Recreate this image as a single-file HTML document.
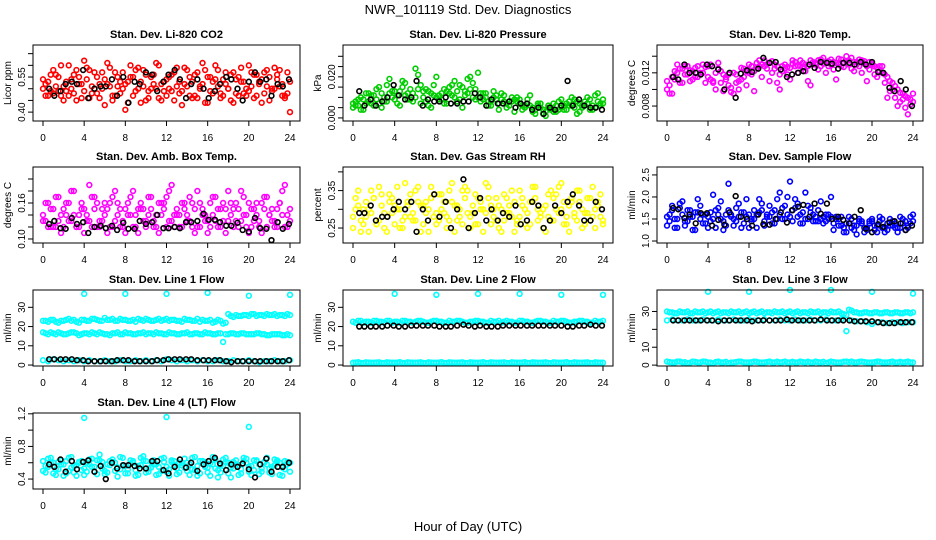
<!DOCTYPE html>
<html><head><meta charset="utf-8"><style>
html,body{margin:0;padding:0;background:#fff;}
svg{display:block;font-family:"Liberation Sans",sans-serif;}
</style></head><body>
<svg id="chart" width="936" height="540" viewBox="0 0 936 540" xmlns="http://www.w3.org/2000/svg">
<rect x="0" y="0" width="936" height="540" fill="#fff"/>
<text x="468" y="14" font-size="13" text-anchor="middle">NWR_101119  Std. Dev. Diagnostics</text>
<text x="468" y="531" font-size="13" text-anchor="middle">Hour of Day (UTC)</text>
</svg>
<script>
const hours = [0,0.5,1,1.5,2,2.5,3,3.5,4,4.5,5,5.5,6,6.5,7,7.5,8,8.5,9,9.5,10,10.5,11,11.5,12,12.5,13,13.5,14,14.5,15,15.5,16,16.5,17,17.5,18,18.5,19,19.5,20,20.5,21,21.5,22,22.5,23,23.5,24];
const hoursH = [0.25,0.75,1.25,1.75,2.25,2.75,3.25,3.75,4.25,4.75,5.25,5.75,6.25,6.75,7.25,7.75,8.25,8.75,9.25,9.75,10.25,10.75,11.25,11.75,12.25,12.75,13.25,13.75,14.25,14.75,15.25,15.75,16.25,16.75,17.25,17.75,18.25,18.75,19.25,19.75,20.25,20.75,21.25,21.75,22.25,22.75,23.25,23.75];
const hoursK = [0.6,1.1,1.7,2.2,2.8,3.3,3.9,4.4,5.0,5.6,6.1,6.7,7.2,7.8,8.3,8.9,9.4,10.0,10.6,11.1,11.7,12.2,12.8,13.3,13.9,14.4,15.0,15.6,16.1,16.7,17.2,17.8,18.3,18.9,19.4,20.0,20.6,21.1,21.7,22.2,22.8,23.3,23.9];
const hoursSpike = [4,8,12,16,20,24];
const xTicks = [0,4,8,12,16,20,24];

const co2A = [0.50,0.53,0.48,0.55,0.51,0.47,0.56,0.52,0.49,0.58,0.50,0.46,0.54,0.51,0.57,0.48,0.52,0.60,0.49,0.53,0.45,0.55,0.50,0.52,0.47,0.56,0.51,0.49,0.58,0.53,0.46,0.52,0.55,0.48,0.51,0.54,0.50,0.57,0.47,0.53,0.49,0.56,0.52,0.48,0.55,0.50,0.58,0.46,0.53];
const co2B = [0.54,0.47,0.58,0.49,0.45,0.60,0.48,0.55,0.62,0.46,0.57,0.52,0.43,0.59,0.47,0.53,0.41,0.55,0.58,0.44,0.56,0.50,0.61,0.45,0.54,0.49,0.59,0.43,0.51,0.46,0.57,0.61,0.44,0.53,0.58,0.47,0.50,0.44,0.55,0.48,0.60,0.46,0.53,0.57,0.45,0.59,0.51,0.47,0.40];
const co2C = [0.52,0.49,0.56,0.47,0.53,0.50,0.58,0.46,0.54,0.51,0.48,0.57,0.52,0.45,0.55,0.50,0.53,0.47,0.59,0.51,0.49,0.56,0.46,0.53,0.50,0.57,0.48,0.52,0.55,0.47,0.51,0.58,0.49,0.54,0.46,0.52,0.56,0.48,0.53,0.50,0.57,0.47,0.54,0.51,0.49,0.56,0.52,0.48];
const co2D = [0.47,0.56,0.51,0.60,0.49,0.54,0.45,0.52,0.59,0.48,0.55,0.50,0.61,0.47,0.51,0.57,0.44,0.55,0.50,0.58,0.46,0.52,0.60,0.49,0.55,0.45,0.53,0.59,0.47,0.56,0.50,0.44,0.55,0.60,0.48,0.57,0.45,0.54,0.59,0.47,0.51,0.56,0.44,0.58,0.50,0.54,0.47,0.57];
const co2K = [0.50,0.47,0.49,0.52,0.53,0.52,0.58,0.46,0.50,0.51,0.51,0.54,0.47,0.55,0.44,0.53,0.52,0.57,0.56,0.49,0.53,0.56,0.58,0.54,0.46,0.52,0.54,0.50,0.46,0.49,0.52,0.55,0.54,0.50,0.45,0.53,0.57,0.53,0.54,0.47,0.52,0.51,0.54];

const presA = [0.007,0.006,0.009,0.008,0.011,0.007,0.010,0.012,0.009,0.013,0.011,0.014,0.010,0.016,0.008,0.012,0.010,0.009,0.013,0.011,0.008,0.015,0.012,0.017,0.010,0.009,0.008,0.010,0.007,0.008,0.006,0.009,0.007,0.005,0.006,0.004,0.005,0.003,0.004,0.006,0.005,0.007,0.006,0.008,0.005,0.007,0.006,0.008,0.007];
const presB = [0.005,0.009,0.004,0.012,0.006,0.015,0.008,0.019,0.013,0.006,0.017,0.009,0.024,0.007,0.014,0.005,0.020,0.012,0.007,0.016,0.013,0.005,0.019,0.010,0.022,0.012,0.006,0.013,0.004,0.011,0.008,0.003,0.009,0.006,0.011,0.002,0.007,0.001,0.005,0.003,0.009,0.004,0.010,0.002,0.006,0.010,0.004,0.012,0.009];
const presC = [0.008,0.010,0.007,0.011,0.009,0.012,0.008,0.013,0.011,0.015,0.009,0.012,0.014,0.010,0.013,0.011,0.009,0.014,0.012,0.010,0.016,0.011,0.014,0.009,0.012,0.010,0.008,0.011,0.009,0.007,0.010,0.008,0.006,0.007,0.005,0.006,0.004,0.005,0.007,0.004,0.006,0.008,0.005,0.007,0.006,0.009,0.005,0.007];
const presD = [0.006,0.004,0.012,0.007,0.014,0.005,0.016,0.010,0.007,0.018,0.012,0.008,0.021,0.013,0.006,0.016,0.011,0.007,0.015,0.018,0.009,0.013,0.020,0.014,0.008,0.012,0.006,0.009,0.012,0.005,0.008,0.010,0.004,0.009,0.003,0.007,0.002,0.006,0.003,0.008,0.004,0.006,0.009,0.003,0.008,0.004,0.011,0.006];
const presK = [0.013,0.006,0.009,0.006,0.008,0.010,0.016,0.011,0.009,0.010,0.018,0.006,0.009,0.008,0.008,0.010,0.007,0.007,0.008,0.008,0.012,0.010,0.006,0.009,0.007,0.007,0.008,0.005,0.007,0.007,0.004,0.005,0.002,0.005,0.004,0.006,0.018,0.006,0.009,0.006,0.005,0.005,0.004];

const tempA = [0.0100,0.0115,0.0120,0.0125,0.0118,0.0122,0.0128,0.0120,0.0115,0.0110,0.0125,0.0118,0.0105,0.0120,0.0100,0.0125,0.0130,0.0122,0.0135,0.0128,0.0132,0.0125,0.0118,0.0130,0.0126,0.0133,0.0128,0.0130,0.0135,0.0132,0.0136,0.0133,0.0130,0.0132,0.0136,0.0134,0.0138,0.0130,0.0135,0.0128,0.0132,0.0126,0.0120,0.0115,0.0108,0.0100,0.0095,0.0090,0.0085];
const tempB = [0.0110,0.0095,0.0130,0.0108,0.0128,0.0112,0.0115,0.0130,0.0128,0.0108,0.0132,0.0098,0.0118,0.0095,0.0110,0.0115,0.0120,0.0098,0.0128,0.0135,0.0110,0.0130,0.0100,0.0125,0.0112,0.0128,0.0135,0.0122,0.0105,0.0130,0.0128,0.0120,0.0136,0.0112,0.0128,0.0140,0.0125,0.0133,0.0120,0.0110,0.0130,0.0115,0.0128,0.0090,0.0100,0.0080,0.0088,0.0070,0.0095];
const tempC = [0.0105,0.0112,0.0125,0.0118,0.0123,0.0115,0.0120,0.0127,0.0112,0.0120,0.0108,0.0115,0.0102,0.0118,0.0112,0.0122,0.0128,0.0126,0.0130,0.0125,0.0134,0.0128,0.0122,0.0127,0.0131,0.0129,0.0132,0.0128,0.0133,0.0135,0.0131,0.0134,0.0133,0.0137,0.0132,0.0135,0.0133,0.0136,0.0131,0.0133,0.0128,0.0122,0.0118,0.0110,0.0104,0.0096,0.0092,0.0088];
const tempD = [0.0095,0.0122,0.0108,0.0128,0.0110,0.0126,0.0118,0.0108,0.0130,0.0100,0.0122,0.0112,0.0097,0.0108,0.0126,0.0105,0.0118,0.0132,0.0115,0.0130,0.0120,0.0108,0.0128,0.0118,0.0135,0.0120,0.0126,0.0110,0.0130,0.0124,0.0138,0.0128,0.0124,0.0130,0.0127,0.0130,0.0122,0.0128,0.0134,0.0124,0.0118,0.0128,0.0108,0.0098,0.0090,0.0085,0.0078,0.0082];
const tempK = [0.0115,0.0112,0.0130,0.0120,0.0120,0.0118,0.0130,0.0128,0.0124,0.0100,0.0120,0.0090,0.0119,0.0123,0.0121,0.0125,0.0138,0.0132,0.0133,0.0124,0.0115,0.0118,0.0120,0.0122,0.0130,0.0126,0.0133,0.0132,0.0131,0.0125,0.0132,0.0132,0.0130,0.0133,0.0130,0.0133,0.0121,0.0120,0.0102,0.0098,0.0110,0.0100,0.0080];

const boxA = [0.14,0.12,0.15,0.13,0.12,0.16,0.14,0.12,0.15,0.13,0.17,0.12,0.14,0.16,0.13,0.12,0.15,0.14,0.12,0.16,0.13,0.15,0.12,0.14,0.17,0.13,0.15,0.12,0.14,0.16,0.12,0.15,0.13,0.14,0.12,0.16,0.13,0.15,0.12,0.14,0.16,0.13,0.12,0.15,0.14,0.13,0.16,0.12,0.15];
const boxB = [0.13,0.16,0.12,0.17,0.15,0.13,0.18,0.14,0.11,0.19,0.15,0.13,0.16,0.12,0.18,0.15,0.11,0.17,0.14,0.15,0.12,0.17,0.14,0.16,0.12,0.19,0.14,0.16,0.13,0.12,0.18,0.14,0.11,0.17,0.15,0.13,0.18,0.12,0.15,0.17,0.11,0.15,0.13,0.17,0.14,0.12,0.16,0.19,0.13];
const boxC = [0.13,0.15,0.12,0.14,0.16,0.13,0.12,0.15,0.14,0.12,0.16,0.13,0.15,0.12,0.14,0.13,0.16,0.12,0.15,0.13,0.14,0.12,0.16,0.15,0.13,0.12,0.14,0.16,0.13,0.15,0.12,0.14,0.16,0.13,0.12,0.15,0.14,0.16,0.13,0.12,0.15,0.14,0.16,0.12,0.13,0.15,0.14,0.12];
const boxD = [0.16,0.12,0.17,0.11,0.14,0.18,0.12,0.16,0.13,0.17,0.12,0.15,0.11,0.17,0.16,0.12,0.14,0.18,0.11,0.15,0.17,0.13,0.11,0.16,0.18,0.14,0.12,0.15,0.17,0.11,0.16,0.13,0.12,0.17,0.15,0.11,0.16,0.13,0.18,0.14,0.12,0.16,0.11,0.17,0.15,0.12,0.18,0.14];
const boxK = [0.125,0.130,0.118,0.117,0.135,0.125,0.128,0.110,0.120,0.122,0.118,0.122,0.115,0.127,0.117,0.117,0.130,0.125,0.128,0.140,0.118,0.118,0.120,0.118,0.128,0.128,0.130,0.142,0.132,0.132,0.128,0.122,0.122,0.127,0.115,0.112,0.135,0.118,0.117,0.098,0.128,0.117,0.125];

const rhA = [0.28,0.31,0.26,0.30,0.33,0.27,0.29,0.32,0.26,0.30,0.28,0.34,0.27,0.31,0.29,0.33,0.26,0.30,0.28,0.32,0.27,0.35,0.29,0.31,0.26,0.30,0.33,0.28,0.31,0.27,0.29,0.32,0.28,0.30,0.26,0.33,0.29,0.31,0.27,0.34,0.30,0.28,0.32,0.27,0.30,0.33,0.28,0.31,0.27];
const rhB = [0.25,0.35,0.30,0.24,0.33,0.36,0.25,0.34,0.31,0.25,0.37,0.28,0.35,0.24,0.32,0.36,0.29,0.34,0.25,0.37,0.31,0.26,0.35,0.29,0.33,0.24,0.36,0.30,0.25,0.34,0.31,0.24,0.35,0.26,0.32,0.36,0.28,0.24,0.35,0.30,0.37,0.26,0.33,0.35,0.25,0.29,0.36,0.32,0.26];
const rhC = [0.30,0.27,0.32,0.29,0.26,0.31,0.28,0.33,0.30,0.27,0.31,0.29,0.32,0.26,0.30,0.28,0.34,0.29,0.27,0.31,0.30,0.33,0.28,0.26,0.32,0.29,0.31,0.27,0.30,0.33,0.28,0.26,0.31,0.29,0.32,0.27,0.30,0.28,0.33,0.29,0.26,0.31,0.28,0.32,0.29,0.27,0.30,0.28];
const rhD = [0.33,0.24,0.28,0.35,0.26,0.34,0.24,0.29,0.36,0.25,0.32,0.27,0.36,0.31,0.24,0.34,0.27,0.32,0.35,0.24,0.28,0.36,0.25,0.34,0.30,0.37,0.26,0.33,0.24,0.29,0.35,0.27,0.33,0.25,0.36,0.30,0.25,0.34,0.27,0.36,0.32,0.24,0.29,0.35,0.26,0.33,0.25,0.34];
const rhK = [0.29,0.29,0.31,0.27,0.28,0.28,0.30,0.32,0.30,0.32,0.24,0.30,0.27,0.34,0.28,0.32,0.25,0.30,0.38,0.25,0.29,0.33,0.27,0.30,0.27,0.29,0.28,0.31,0.26,0.27,0.32,0.31,0.25,0.27,0.31,0.29,0.32,0.34,0.31,0.27,0.27,0.32,0.30];

const flowA = [1.55,1.70,1.50,1.60,1.45,1.55,1.65,1.40,1.55,1.50,1.60,1.45,1.70,1.50,1.55,1.40,1.60,1.50,1.65,1.45,1.55,1.70,1.60,1.80,1.55,1.75,1.60,1.50,1.65,1.55,1.50,1.45,1.55,1.50,1.35,1.40,1.30,1.35,1.40,1.30,1.45,1.35,1.30,1.40,1.35,1.30,1.40,1.35,1.45];
const flowB = [1.35,1.80,1.30,1.90,1.70,1.25,1.95,1.60,1.30,2.05,1.75,1.25,2.30,1.35,1.85,1.65,1.30,1.70,1.95,1.35,1.80,1.40,2.10,1.50,2.35,1.95,1.40,2.10,1.75,1.45,1.90,1.60,2.00,1.55,1.55,1.20,1.50,1.15,1.45,1.25,1.50,1.20,1.50,1.25,1.45,1.20,1.50,1.30,1.60];
const flowC = [1.60,1.50,1.75,1.45,1.55,1.65,1.50,1.60,1.45,1.70,1.50,1.60,1.55,1.45,1.65,1.55,1.50,1.60,1.70,1.55,1.65,1.50,1.75,1.60,1.70,1.55,1.65,1.50,1.60,1.45,1.55,1.50,1.40,1.35,1.30,1.40,1.35,1.45,1.30,1.40,1.35,1.45,1.30,1.35,1.40,1.30,1.45,1.40];
const flowD = [1.45,1.30,1.85,1.35,1.70,1.25,1.80,1.40,1.65,1.30,1.90,1.35,1.60,1.75,1.30,1.95,1.45,1.30,1.85,1.60,1.40,1.95,1.50,2.00,1.45,1.85,1.40,1.80,1.45,1.70,1.40,1.60,1.25,1.50,1.20,1.55,1.25,1.50,1.20,1.45,1.25,1.55,1.20,1.50,1.30,1.55,1.25,1.55];
const flowK = [1.75,1.72,1.52,1.60,1.40,1.63,1.63,1.35,1.48,1.37,1.65,2.02,1.55,1.50,1.35,1.60,1.38,1.37,1.50,1.65,1.42,1.70,1.78,1.82,1.55,1.85,1.62,1.85,1.50,1.55,1.48,1.40,1.55,1.70,1.28,1.20,1.38,1.32,1.42,1.45,1.40,1.25,1.35];

const line1A = [23,22.5,23.5,22,23,24,23.5,22,23.5,23,24,23,24.5,23.5,23,24,23.5,23,22.5,23.5,24,23,23.5,23,24,23.5,23,22.5,23.5,23,24,23.5,23,22,23.5,21.5,26.5,25,25.5,26,25.5,26.5,26,25.5,26,26.5,26,25.5,26];
const line1B = [17,16,16.5,17,16,16.5,17,15.5,16.5,16,16.5,17,16,15.5,16.5,16,17,16.5,16,16.5,16,16.5,17,16.5,16,16.5,16,16.5,17,16,16.5,16,16.5,16,16.5,12,16,16.5,16,16.5,16,16,16.5,16,15.5,16,16,15.5,15.5];
const line1C = [2.5,2,3,2.5,2,2.5,2,2.5,2,2.5,2,2,2.5,2,2,2.5,2,2,2.5,2,2.5,2,2.5,2,3,2.5,2,2.5,2,2.5,2,2.5,2,2,2.5,2,2,2.5,2,2,2.5,2,1.5,2,2,2.5,2,2,2.5];
const line1D = [23,23.5,22.5,23,23.5,23,22.5,23.5,23,24,23.5,23,23.5,24,23,23.5,23,23.5,24,23,23.5,23,24,23.5,23,23.5,23,24,23.5,23,22.5,23,23.5,22.5,23,22,25.5,26,25.5,26,26.5,25.5,26,26.5,26,25.5,26,26.5];
const line1E = [16.5,17,16,16.5,16,17,16.5,16,16.5,17,16,16.5,16,16.5,17,16,16.5,16,16.5,17,16.5,16,16.5,16,17,16.5,16,16.5,16,16.5,16,17,16.5,16,16.5,16,16.5,16,16.5,16,16,16.5,16,15.5,16,16,15.5,16];
const line1K = [3,3,3,3,3,2.5,2.5,2,2,2,2,2,2.5,2.5,2.5,2,2,2,2,2.5,2.5,3,3,3,3,3,2.5,2.5,2.5,2.5,2.5,2,1.5,2,2,2,2,2,2,2,2,2,2.5];
const line1S = [37,37,37,37.5,36,36.5];

const line2A = [22.5,23,22,22.5,23,22.5,22,23,22.5,22,23,22.5,22.5,23,22,22.5,23,22.5,22,22.5,23,22.5,22,22.5,23,22.5,22,22.5,23,22.5,22.5,22,23,22.5,22,22.5,23,22.5,22,22.5,23,22.5,22,22.5,23,22.5,22,22.5,23];
const line2B = [1.2,1.5,1,1.3,1.2,1.4,1,1.3,1.2,1.5,1.1,1.3,1.2,1.4,1,1.3,1.2,1.5,1.1,1.3,1.2,1.4,1,1.3,1.2,1.5,1.1,1.3,1.2,1.4,1,1.3,1.2,1.5,1.1,1.3,1.2,1.4,1,1.3,1.2,1.5,1.1,1.3,1.2,1.4,1,1.3,1.2];
const line2C = [22,23,22.5,22,23,22.5,23,22,22.5,23,22.5,22,23,22.5,22,23,22.5,22,23,22.5,23,22,22.5,23,22.5,22,23,22.5,22,23,22.5,22,23,22.5,22,23,22.5,22,23,22.5,23,22,22.5,23,22.5,22,23,22.5];
const line2D = [1.3,1.1,1.4,1.2,1.3,1.1,1.4,1.2,1.3,1.1,1.4,1.2,1.3,1.1,1.4,1.2,1.3,1.1,1.4,1.2,1.3,1.1,1.4,1.2,1.3,1.1,1.4,1.2,1.3,1.1,1.4,1.2,1.3,1.1,1.4,1.2,1.3,1.1,1.4,1.2,1.3,1.1,1.4,1.2,1.3,1.1,1.4,1.2];
const line2K = [20,20,20,20,20,20.5,20.5,20,20,20.5,20.5,20.5,20.5,20.5,20,20,20,20.5,21,20.5,20,20.5,20,20,20,20.5,20.5,20.5,20.5,20.5,20.5,20.5,20.5,20.5,20.5,20.5,20,20,20.5,20.5,21,20.5,20.5];
const line2S = [37,36.5,37,37,36.5,36.5];

const line3A = [30,29.5,29,29.5,30,29,29.5,30,29.5,29,30,29.5,29,29.5,30,29.5,29,30,29.5,29,29.5,30,29.5,29,30,29.5,29,29.5,30,29.5,29,29.5,30,29.5,29,28,30.5,29.5,29,29.5,29,29.5,29,29.5,29,29.5,29,29.5,29.5];
const line3B = [25,25.5,25,25,25.5,25,25,25.5,25,25,25.5,25,25,25.5,25,25,25.5,25,25,25.5,25,25,25.5,25,25,25.5,25,25,25.5,25,25,25.5,25,25,25.5,19,25,24.5,24.5,24,23,24,24,23.5,24,24,23.5,24,24];
const line3C = [2,1.5,2,1.5,1,2,1.5,2,1.5,1,2,1.5,1,1.5,2,1.5,1.5,2,1.5,1.5,2,1.5,1.5,2,1.5,1.5,2,1.5,1.5,2,1.5,1,2,1.5,1.5,2,2,1.5,2,1.5,1.5,2,1.5,1.5,2,1.5,1.5,2,1.5];
const line3D = [29.5,29,30,29.5,29,30,29.5,29,30,29.5,29,29.5,30,29.5,29,30,29.5,29,30,29.5,29,29.5,30,29.5,29,30,29.5,29,29.5,30,29.5,29,29.5,30,28.5,31,29.5,29,29.5,29,29.5,29,29.5,29,29.5,29,29.5,29];
const line3F = [1.7,1.4,2,1.6,1.3,1.8,1.5,1.9,1.4,1.7,1.5,1.8,1.4,1.7,1.9,1.5,1.6,1.8,1.4,1.7,1.5,1.9,1.6,1.4,1.8,1.5,1.7,1.9,1.4,1.6,1.8,1.5,1.7,1.4,1.9,1.6,1.5,1.8,1.7,1.4,1.6,1.9,1.5,1.7,1.4,1.8,1.6,1.5];
const line3K = [25,25,25,25,25,25,25,25,24.5,25,25,25,25,25,24.5,25,25,25,25,25,25.5,25,25,25,25,25,25.5,25,25,25,25,25,24.5,24.5,24.5,24.5,24,23.5,23.5,23.5,24,24,24];
const line3S = [41,41,42,42,41,40];

const line4A = [0.62,0.55,0.60,0.52,0.58,0.50,0.56,0.61,0.53,0.58,0.55,0.63,0.50,0.57,0.60,0.52,0.56,0.59,0.51,0.57,0.62,0.54,0.58,0.50,0.55,0.61,0.53,0.57,0.60,0.52,0.56,0.62,0.54,0.58,0.51,0.56,0.60,0.53,0.57,0.62,0.55,0.51,0.58,0.61,0.53,0.57,0.60,0.52,0.60];
const line4B = [0.50,0.65,0.47,0.61,0.44,0.66,0.48,0.60,0.45,0.64,0.49,0.70,0.46,0.62,0.50,0.67,0.47,0.63,0.44,0.66,0.48,0.61,0.45,0.65,0.49,0.63,0.46,0.60,0.50,0.66,0.44,0.62,0.48,0.67,0.42,0.64,0.47,0.61,0.45,0.66,0.49,0.63,0.46,0.60,0.48,0.64,0.45,0.62,0.49];
const line4C = [0.56,0.60,0.52,0.58,0.62,0.54,0.57,0.51,0.60,0.55,0.63,0.53,0.58,0.61,0.54,0.57,0.52,0.60,0.56,0.63,0.53,0.58,0.55,0.61,0.52,0.57,0.60,0.54,0.58,0.51,0.62,0.55,0.59,0.53,0.57,0.61,0.54,0.58,0.52,0.60,0.56,0.63,0.53,0.58,0.55,0.61,0.54,0.58];
const line4D = [0.48,0.66,0.45,0.63,0.47,0.67,0.44,0.62,0.49,0.65,0.46,0.61,0.48,0.64,0.43,0.66,0.47,0.62,0.45,0.68,0.49,0.63,0.46,0.66,0.44,0.62,0.48,0.65,0.45,0.67,0.47,0.61,0.44,0.64,0.48,0.66,0.42,0.63,0.47,0.65,0.45,0.62,0.49,0.66,0.46,0.63,0.44,0.61];
const line4K = [0.58,0.55,0.64,0.49,0.62,0.52,0.61,0.63,0.49,0.56,0.40,0.60,0.53,0.57,0.57,0.56,0.53,0.53,0.62,0.62,0.51,0.47,0.55,0.64,0.54,0.60,0.50,0.58,0.62,0.66,0.59,0.51,0.58,0.55,0.59,0.52,0.42,0.58,0.65,0.49,0.55,0.55,0.60];
const line4S = [1.15,1.16,1.04];

const panels = [
 {name:'co2',title:'Stan. Dev. Li-820 CO2',ylab:'Licor ppm',col:0,row:0,ymin:0.362,ymax:0.687,color:'#ff0000',yt:[0.40,0.45,0.50,0.55,0.60,0.65],ytl:['0.40','','','0.55','',''],series:[[hours,co2A],[hours,co2B],[hoursH,co2C],[hoursH,co2D]],black:[hoursK,co2K]},
 {name:'pressure',title:'Stan. Dev. Li-820 Pressure',ylab:'kPa',col:1,row:0,ymin:-0.0015,ymax:0.0355,color:'#00cd00',yt:[0,0.005,0.010,0.015,0.020,0.025,0.030],ytl:['0.000','','','','0.020','',''],series:[[hours,presA],[hours,presB],[hoursH,presC],[hoursH,presD]],black:[hoursK,presK]},
 {name:'li820-temp',title:'Stan. Dev. Li-820 Temp.',ylab:'degrees C',col:2,row:0,ymin:0.0062,ymax:0.01535,color:'#ff00ff',yt:[0.008,0.010,0.012,0.014],ytl:['0.008','','0.012',''],series:[[hours,tempA],[hours,tempB],[hoursH,tempC],[hoursH,tempD]],black:[hoursK,tempK]},
 {name:'amb-box-temp',title:'Stan. Dev. Amb. Box Temp.',ylab:'degrees C',col:0,row:1,ymin:0.0933,ymax:0.22,color:'#ff00ff',yt:[0.10,0.12,0.14,0.16,0.18,0.20],ytl:['0.10','','','0.16','',''],series:[[hours,boxA],[hours,boxB],[hoursH,boxC],[hoursH,boxD]],black:[hoursK,boxK]},
 {name:'gas-stream-rh',title:'Stan. Dev. Gas Stream RH',ylab:'percent',col:1,row:1,ymin:0.21,ymax:0.413,color:'#ffff00',yt:[0.25,0.30,0.35,0.40],ytl:['0.25','','0.35',''],series:[[hours,rhA],[hours,rhB],[hoursH,rhC],[hoursH,rhD]],black:[hoursK,rhK]},
 {name:'sample-flow',title:'Stan. Dev. Sample Flow',ylab:'ml/min',col:2,row:1,ymin:0.955,ymax:2.68,color:'#0000ff',yt:[1.0,1.5,2.0,2.5],ytl:['1.0','1.5','2.0','2.5'],series:[[hours,flowA],[hours,flowB],[hoursH,flowC],[hoursH,flowD]],black:[hoursK,flowK]},
 {name:'line1-flow',title:'Stan. Dev. Line 1 Flow',ylab:'ml/min',col:0,row:2,ymin:-0.5,ymax:39,color:'#00ffff',yt:[0,10,20,30],ytl:['0','10','20','30'],series:[[hours,line1A],[hours,line1B],[hours,line1C],[hoursH,line1D],[hoursH,line1E],[hoursSpike,line1S]],black:[hoursK,line1K]},
 {name:'line2-flow',title:'Stan. Dev. Line 2 Flow',ylab:'ml/min',col:1,row:2,ymin:-0.5,ymax:39,color:'#00ffff',yt:[0,10,20,30],ytl:['0','10','20','30'],series:[[hours,line2A],[hours,line2B],[hoursH,line2C],[hoursH,line2D],[hoursSpike,line2S]],black:[hoursK,line2K]},
 {name:'line3-flow',title:'Stan. Dev. Line 3 Flow',ylab:'ml/min',col:2,row:2,ymin:-0.5,ymax:42,color:'#00ffff',yt:[0,10,20,30],ytl:['0','10','','30'],series:[[hours,line3A],[hours,line3B],[hours,line3C],[hoursH,line3D],[hoursH,line3F],[hoursSpike,line3S]],black:[hoursK,line3K]},
 {name:'line4-flow',title:'Stan. Dev. Line 4 (LT) Flow',ylab:'ml/min',col:0,row:3,ymin:0.278,ymax:1.21,color:'#00ffff',yt:[0.4,0.6,0.8,1.0,1.2],ytl:['0.4','','0.8','','1.2'],series:[[hours,line4A],[hours,line4B],[hoursH,line4C],[hoursH,line4D],[[4,12,20],line4S]],black:[hoursK,line4K]}
];
const colLeft = [33,343,657], colW = [267,270,266], rowTop = [45,167,290,413], boxH = 76;

const NS='http://www.w3.org/2000/svg';
const svg=document.getElementById('chart');
function mk(tag,attrs,parent){const e=document.createElementNS(NS,tag);for(const k in attrs)e.setAttribute(k,attrs[k]);parent.appendChild(e);return e;}

panels.forEach(p=>{
  const L=colLeft[p.col], W=colW[p.col], T=rowTop[p.row], B=T+boxH;
  const xs=h=>L+10+(h/24)*(W-20);
  const ys=v=>B-(v-p.ymin)/(p.ymax-p.ymin)*boxH;
  const g=mk('g',{},svg);
  
  
  const t=mk('text',{x:L+W/2,y:T-7,'font-size':11,'font-weight':'bold','text-anchor':'middle'},g);
  t.textContent=p.title;
  
  
  const yl=mk('text',{x:0,y:0,'font-size':10,'text-anchor':'middle',transform:`translate(${L-22},${T+boxH/2}) rotate(-90)`},g);
  yl.textContent=p.ylab;
  
  
  const pts=mk('g',{fill:'none','stroke-width':1.6},g);
  
  
  p.series.forEach(s=>{
    const n=Math.min(s[0].length,s[1].length);
    for(let i=0;i<n;i++){
      const c=mk('circle',{cx:xs(s[0][i]),cy:ys(s[1][i]),r:2.4,stroke:p.color},pts);
      
      
    }
  });
  const n=Math.min(p.black[0].length,p.black[1].length);
  for(let i=0;i<n;i++){
    const c=mk('circle',{cx:xs(p.black[0][i]),cy:ys(p.black[1][i]),r:2.4,stroke:'#000'},pts);
    
    
  }
  const box=mk('rect',{x:L,y:T,width:W,height:boxH,fill:'none',stroke:'#000','stroke-width':1},g);
  
  
  xTicks.forEach(v=>{
    mk('line',{x1:xs(v),x2:xs(v),y1:B,y2:B+5,stroke:'#000'},g);
    const tx=mk('text',{x:xs(v),y:B+20,'font-size':10,'text-anchor':'middle'},g);
    tx.textContent=String(v);
    
    
  });
  p.yt.forEach((v,i)=>{
    mk('line',{x1:L-5,x2:L,y1:ys(v),y2:ys(v),stroke:'#000'},g);
    if(p.ytl[i]){
      const tx=mk('text',{x:0,y:0,'font-size':10,'text-anchor':'middle',transform:`translate(${L-8},${ys(v)}) rotate(-90)`},g);
      tx.textContent=p.ytl[i];
      
      
    }
  });
});
</script>
</body></html>
